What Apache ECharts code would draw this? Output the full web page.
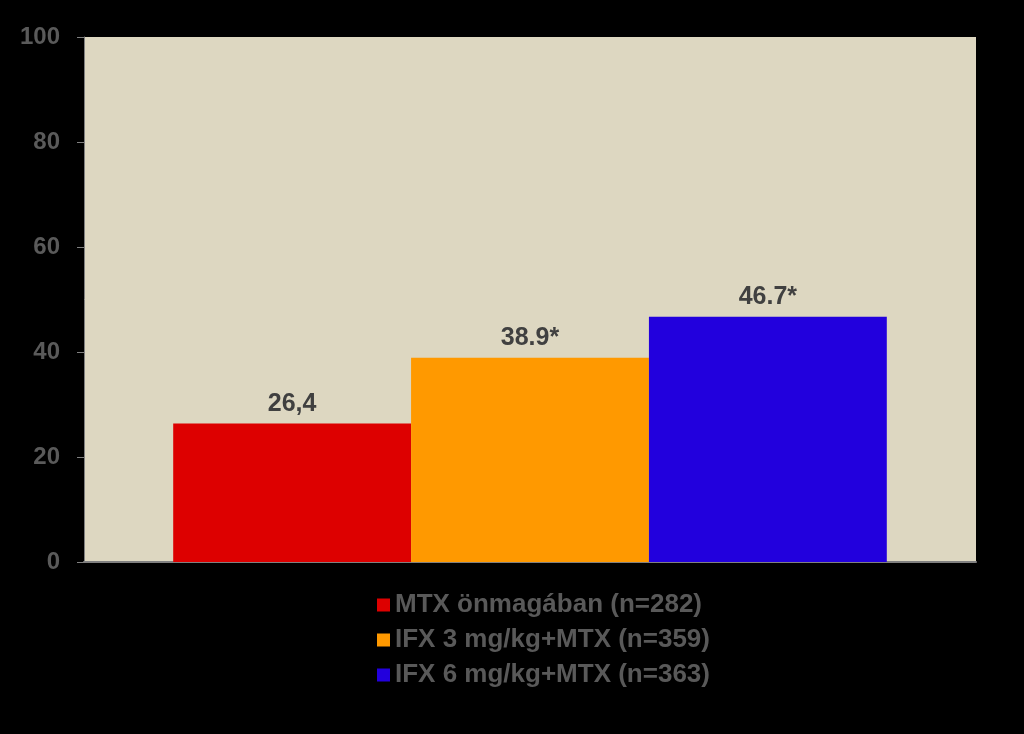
<!DOCTYPE html>
<html>
<head>
<meta charset="utf-8">
<script src="https://cdn.jsdelivr.net/npm/echarts@6/dist/echarts.min.js"></script>
<style>
html,body{margin:0;padding:0;background:#000;}
#chart{width:1024px;height:734px;}
</style>
</head>
<body>
<div id="chart"></div>
<script>
const seriesNames = ['MTX önmagában (n=282)', 'IFX 3 mg/kg+MTX (n=359)', 'IFX 6 mg/kg+MTX (n=363)'];
const values = [26.4, 38.9, 46.7];
const valueLabels = ['26,4', '38.9*', '46.7*'];
const colors = ['#DD0000', '#FF9900', '#2200DD'];
const categories = [''];
const yTicks = [0, 20, 40, 60, 80, 100];

const chart = echarts.init(document.getElementById('chart'));
const series = seriesNames.map((name, i) => ({
  name: name,
  type: 'bar',
  data: [values[i]],
  barGap: '0%',
  barCategoryGap: '20%',
  itemStyle: { color: colors[i] },
  label: {
    show: true,
    position: 'top',
    distance: 7,
    formatter: () => valueLabels[i],
    color: '#404040',
    fontFamily: 'Liberation Sans, Arial, sans-serif',
    fontWeight: 'bold',
    fontSize: 25
  }
}));

chart.setOption({
  backgroundColor: '#000000',
  animation: false,
  grid: { left: 84, right: 48, top: 37, bottom: 172, show: true, backgroundColor: '#DDD7C1', borderWidth: 0 },
  xAxis: {
    type: 'category',
    data: categories,
    axisLine: { show: true, lineStyle: { color: '#808080', width: 2 } },
    axisTick: { show: false },
    axisLabel: { show: false }
  },
  yAxis: {
    type: 'value',
    min: yTicks[0],
    max: yTicks[yTicks.length - 1],
    interval: 20,
    axisLine: { show: true, lineStyle: { color: '#808080', width: 1 } },
    axisTick: { show: true, inside: false, length: 7, lineStyle: { color: '#808080' } },
    splitLine: { show: false },
    axisLabel: {
      margin: 24,
      color: '#5A5A5A',
      fontFamily: 'Liberation Sans, Arial, sans-serif',
      fontWeight: 'bold',
      fontSize: 24
    }
  },
  legend: {
    data: seriesNames,
    orient: 'vertical',
    left: 372,
    top: 587,
    itemGap: 9,
    itemWidth: 13,
    itemHeight: 13,
    icon: 'rect',
    textStyle: {
      color: '#595959',
      fontFamily: 'Liberation Sans, Arial, sans-serif',
      fontWeight: 'bold',
      fontSize: 26
    }
  },
  series: series
});
</script>
</body>
</html>
